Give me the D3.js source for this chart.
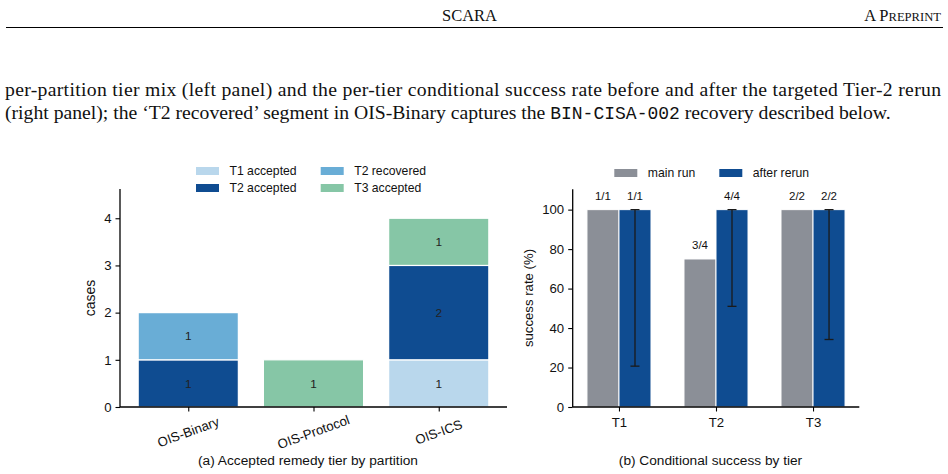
<!DOCTYPE html>
<html><head><meta charset="utf-8">
<script src="https://cdn.jsdelivr.net/npm/d3@7"></script>
<style>
html,body{margin:0;padding:0;background:#fff;}
svg{display:block;}
.sans{font-family:"Liberation Sans",Arial,Helvetica,sans-serif;}
.serif{font-family:"Liberation Serif","Times New Roman",serif;}
</style></head>
<body>
<svg id="c" width="948" height="474"></svg>
<script>
// ---- data ----
const partitions = ["OIS-Binary", "OIS-Protocol", "OIS-ICS"];
const t1Accepted = [0, 0, 1];
const t2Accepted = [1, 0, 2];
const t2Recovered = [1, 0, 0];
const t3Accepted = [0, 1, 1];
const leftSeries = ["T1 accepted", "T2 accepted", "T2 recovered", "T3 accepted"];
const leftYTicks = [0, 1, 2, 3, 4];

const tiers = ["T1", "T2", "T3"];
const mainRun = [100, 75, 100];
const afterRerun = [100, 100, 100];
const mainLabels = ["1/1", "3/4", "2/2"];
const afterLabels = ["1/1", "4/4", "2/2"];
const afterLower = [20.7, 51.0, 34.2];
const afterUpper = [100, 100, 100];
const rightYTicks = [0, 20, 40, 60, 80, 100];

const svg = d3.select("#c");
const C = {t1:"#b9d7ec", t2:"#0f4c91", t2r:"#69add6", t3:"#86c6a6", grey:"#8b8f97"};

// ---- page header & paragraph ----
svg.append("text").attr("class","serif").attr("x",469.5).attr("y",20.5)
  .attr("text-anchor","middle").attr("font-size",16.5).attr("fill","#111").text("SCARA");
const pp = svg.append("text").attr("class","serif").attr("x",941).attr("y",20.5)
  .attr("text-anchor","end").attr("fill","#111").attr("font-size",16.5);
pp.append("tspan").text("A P");
pp.append("tspan").attr("font-size",12.6).text("REPRINT");
svg.append("line").attr("x1",6).attr("x2",943).attr("y1",27.5).attr("y2",27.5)
  .attr("stroke","#000").attr("stroke-width",1);

svg.append("text").attr("class","serif").attr("x",5).attr("y",96)
  .attr("font-size",19.7).attr("fill","#111")
  .attr("textLength",936).attr("lengthAdjust","spacing")
  .text("per-partition tier mix (left panel) and the per-tier conditional success rate before and after the targeted Tier-2 rerun");
const l2 = svg.append("text").attr("class","serif").attr("x",5).attr("y",118.5)
  .attr("font-size",19.7).attr("fill","#111");
l2.append("tspan").text("(right panel); the \u2018T2 recovered\u2019 segment in OIS-Binary captures the ");
l2.append("tspan").attr("font-family","'Liberation Mono','DejaVu Sans Mono',monospace").attr("font-size",18).text("BIN-CISA-002");
l2.append("tspan").text(" recovery described below.");

// ---- left panel ----
const g1 = svg.append("g").attr("class","sans");
const x1 = d3.scaleLinear().domain([-0.545, 2.545]).range([120, 507]);
const y1 = d3.scaleLinear().domain([0, 4.62]).range([407, 189]);
const bw1 = 0.8;
const stackData = partitions.map((p,i)=>({p, i, vals:[t1Accepted[i], t2Accepted[i], t2Recovered[i], t3Accepted[i]]}));
const leftColors = [C.t1, C.t2, C.t2r, C.t3];
stackData.forEach(d=>{
  let base = 0;
  d.vals.forEach((v,k)=>{
    if (v>0){
      g1.append("rect").attr("x",x1(d.i-bw1/2)).attr("width",x1(d.i+bw1/2)-x1(d.i-bw1/2))
        .attr("y",y1(base+v)).attr("height",y1(base)-y1(base+v))
        .attr("fill",leftColors[k]).attr("stroke","#fff").attr("stroke-width",1.2);
      g1.append("text").attr("x",x1(d.i)).attr("y",y1(base+v/2)).attr("dy","0.36em")
        .attr("text-anchor","middle").attr("font-size",11.8).attr("fill","#222").text(v);
    }
    base += v;
  });
});
const ya1 = g1.append("g").attr("transform","translate(120,0)")
  .call(d3.axisLeft(y1).tickValues(leftYTicks).tickSize(4.5).tickPadding(4).tickFormat(d3.format("d")));
const xa1 = g1.append("g").attr("transform","translate(0,407)")
  .call(d3.axisBottom(x1).tickValues([0,1,2]).tickSize(4.5).tickFormat(""));
[ya1, xa1].forEach(a=>{
  a.select(".domain").attr("stroke","#000").attr("stroke-width",1.3);
  a.selectAll(".tick line").attr("stroke","#000").attr("stroke-width",1.1);
  a.selectAll(".tick text").attr("font-size",13.2).attr("fill","#111").attr("font-family","'Liberation Sans',Arial,sans-serif");
});
ya1.select(".domain").attr("d","M0,189V407");
xa1.select(".domain").attr("d","M120,0H507");
partitions.forEach((p,i)=>{
  g1.append("text").attr("transform",`translate(${x1(i)},432) rotate(-20)`)
    .attr("text-anchor","middle").attr("dy","0.35em").attr("font-size",13.2).attr("fill","#111").text(p);
});
g1.append("text").attr("transform","translate(90,298) rotate(-90)").attr("text-anchor","middle")
  .attr("dy","0.35em").attr("font-size",14).attr("fill","#111").text("cases");
g1.append("text").attr("x",308).attr("y",460).attr("dy","0.35em").attr("text-anchor","middle")
  .attr("font-size",13.7).attr("fill","#111").text("(a) Accepted remedy tier by partition");
// legend
const legPos1 = [[196,171],[196,188],[320.7,171],[320.7,188]];
leftSeries.forEach((s,k)=>{
  const [lx,ly] = legPos1[k];
  g1.append("rect").attr("x",lx).attr("y",ly-4).attr("width",23).attr("height",8).attr("fill",leftColors[k]);
  g1.append("text").attr("x",lx+33.5).attr("y",ly).attr("dy","0.35em").attr("font-size",12.2).attr("fill","#111").text(s);
});

// ---- right panel ----
const g2 = svg.append("g").attr("class","sans");
const x2 = d3.scaleLinear().domain([-0.477, 2.477]).range([572.7, 859.3]);
const y2 = d3.scaleLinear().domain([0, 110.3]).range([407, 189.3]);
const bw2 = 0.33, off = 0.165;
tiers.forEach((t,i)=>{
  g2.append("rect").attr("x",x2(i-off-bw2/2)).attr("width",x2(bw2)-x2(0))
    .attr("y",y2(mainRun[i])).attr("height",y2(0)-y2(mainRun[i]))
    .attr("fill",C.grey).attr("stroke","#fff").attr("stroke-width",1);
  g2.append("rect").attr("x",x2(i+off-bw2/2)).attr("width",x2(bw2)-x2(0))
    .attr("y",y2(afterRerun[i])).attr("height",y2(0)-y2(afterRerun[i]))
    .attr("fill",C.t2).attr("stroke","#fff").attr("stroke-width",1);
  const ex = x2(i+off);
  g2.append("line").attr("x1",ex).attr("x2",ex).attr("y1",y2(afterLower[i])).attr("y2",y2(afterUpper[i]))
    .attr("stroke","#1a1a1a").attr("stroke-width",1.3);
  [afterLower[i], afterUpper[i]].forEach(v=>{
    g2.append("line").attr("x1",ex-4.5).attr("x2",ex+4.5).attr("y1",y2(v)).attr("y2",y2(v))
      .attr("stroke","#1a1a1a").attr("stroke-width",1.3);
  });
  g2.append("text").attr("x",x2(i-off)).attr("y",y2(mainRun[i])-9.5).attr("text-anchor","middle")
    .attr("font-size",11.5).attr("fill","#111").text(mainLabels[i]);
  g2.append("text").attr("x",x2(i+off)).attr("y",y2(afterUpper[i])-9.5).attr("text-anchor","middle")
    .attr("font-size",11.5).attr("fill","#111").text(afterLabels[i]);
});
const ya2 = g2.append("g").attr("transform","translate(572.7,0)")
  .call(d3.axisLeft(y2).tickValues(rightYTicks).tickSize(4.5).tickPadding(4).tickFormat(d3.format("d")));
const xa2 = g2.append("g").attr("transform","translate(0,407)")
  .call(d3.axisBottom(x2).tickValues([0,1,2]).tickSize(4.5).tickPadding(6).tickFormat((d)=>tiers[d]));
[ya2, xa2].forEach(a=>{
  a.select(".domain").attr("stroke","#000").attr("stroke-width",1.3);
  a.selectAll(".tick line").attr("stroke","#000").attr("stroke-width",1.1);
  a.selectAll(".tick text").attr("font-size",13.2).attr("fill","#111").attr("font-family","'Liberation Sans',Arial,sans-serif");
});
ya2.select(".domain").attr("d","M0,189.3V407");
xa2.select(".domain").attr("d","M572.7,0H859.3");
g2.append("text").attr("transform","translate(528,298) rotate(-90)").attr("text-anchor","middle")
  .attr("dy","0.35em").attr("font-size",13.2).attr("fill","#111").text("success rate (%)");
g2.append("text").attr("x",710.5).attr("y",460).attr("dy","0.35em").attr("text-anchor","middle")
  .attr("font-size",13.7).attr("fill","#111").text("(b) Conditional success by tier");
const rightSeries = ["main run", "after rerun"];
const rightColors = [C.grey, C.t2];
const legPos2 = [[614.3,173],[719.3,173]];
rightSeries.forEach((s,k)=>{
  const [lx,ly] = legPos2[k];
  g2.append("rect").attr("x",lx).attr("y",ly-4).attr("width",23).attr("height",8).attr("fill",rightColors[k]);
  g2.append("text").attr("x",lx+33.5).attr("y",ly).attr("dy","0.35em").attr("font-size",12.2).attr("fill","#111").text(s);
});
</script>
</body></html>
